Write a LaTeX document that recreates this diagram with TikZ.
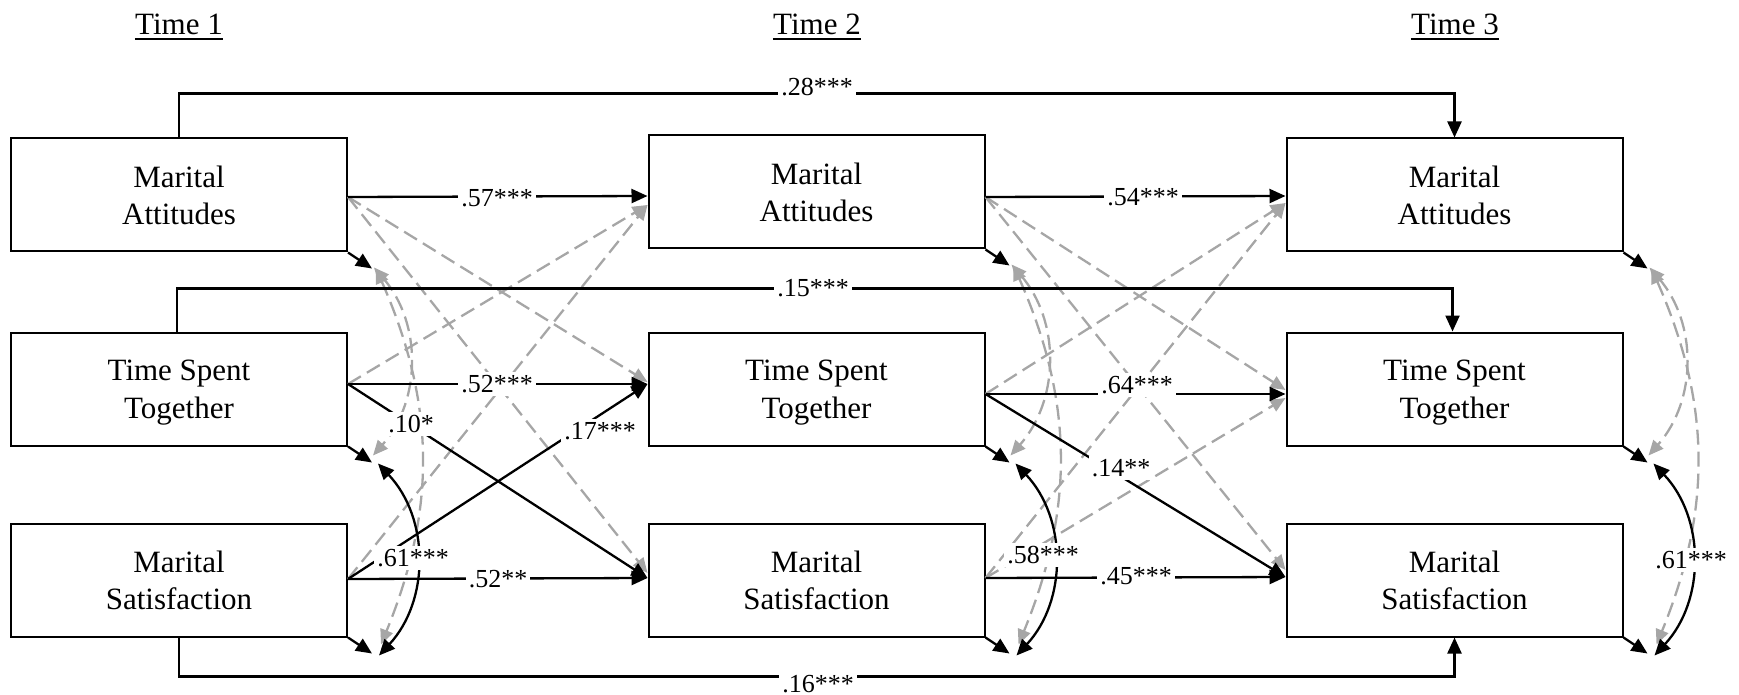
\documentclass[tikz,border=0pt]{standalone}
\usepackage{fontspec}
\setmainfont{Liberation Serif}
\usetikzlibrary{arrows.meta,calc}
\definecolor{lg}{RGB}{166,166,166}
\begin{document}
\begin{tikzpicture}[x=0.5pt,y=-0.5pt,
 box/.style={draw, line width=1pt, minimum width=168pt, minimum height=56.5pt, inner sep=0pt, align=center, text depth=0pt, font=\fontsize{15.5}{18.75}\selectfont},
 blk/.style={line width=1.15pt, -{Triangle[length=8pt,width=7pt]}},
 blk2/.style={line width=1.15pt, {Triangle[length=8pt,width=7pt]}-{Triangle[length=8pt,width=7pt]}},
 gry/.style={lg, line width=1.15pt, dash pattern=on 7.5pt off 3.5pt, -{Triangle[length=7.5pt,width=6.5pt]}},
 gry2/.style={lg, line width=1.15pt, dash pattern=on 7.5pt off 3.5pt, {Triangle[length=7.5pt,width=6.5pt]}-{Triangle[length=7.5pt,width=6.5pt]}},
 lab/.style={fill=white, inner sep=1.5pt, font=\fontsize{13}{15}\selectfont},
 ttl/.style={inner sep=0pt, anchor=base, font=\fontsize{15.5}{18.75}\selectfont}]
\useasboundingbox (0,0) rectangle (1739,695);

% titles
\node[ttl] (t1) at (179,35) {Time 1};
\node[ttl] (t2) at (817,35) {Time 2};
\node[ttl] (t3) at (1455,35) {Time 3};
\foreach \t in {t1,t2,t3}
  \draw[line width=1pt] ([yshift=-2pt]\t.base west) -- ([yshift=-2pt]\t.base east);

% boxes
\node[box] (ma1)  at (179,195)    {Marital\\Attitudes};
\node[box] (tst1) at (179,389)    {Time Spent\\Together};
\node[box] (ms1)  at (179,580)    {Marital\\Satisfaction};
\node[box] (ma2)  at (816.5,192)  {Marital\\Attitudes};
\node[box] (tst2) at (816.5,389)  {Time Spent\\Together};
\node[box] (ms2)  at (816.5,580)  {Marital\\Satisfaction};
\node[box] (ma3)  at (1454.5,195) {Marital\\Attitudes};
\node[box] (tst3) at (1454.5,389) {Time Spent\\Together};
\node[box] (ms3)  at (1454.5,580) {Marital\\Satisfaction};

% ports
\coordinate (ma1o)  at ($(ma1.east)+(0,2)$);
\coordinate (tst1o) at ($(tst1.east)+(0,-5)$);
\coordinate (ms1o)  at ($(ms1.east)+(0,-1)$);
\coordinate (ma2i)  at ($(ma2.west)+(0,4)$);
\coordinate (ma2g)  at ($(ma2.west)+(0,13)$);
\coordinate (tst2i) at ($(tst2.west)+(0,-5)$);
\coordinate (tst2g) at ($(tst2.west)+(0,-7)$);
\coordinate (ms2i)  at ($(ms2.west)+(0,-2)$);
\coordinate (ms2g)  at ($(ms2.west)+(0,-7)$);
\coordinate (ma2o)  at ($(ma2.east)+(0,5)$);
\coordinate (tst2o) at ($(tst2.east)+(0,5)$);
\coordinate (ms2o)  at ($(ms2.east)+(0,-2)$);
\coordinate (ma3i)  at ($(ma3.west)+(0,1)$);
\coordinate (ma3g)  at ($(ma3.west)+(0,8)$);
\coordinate (tst3i) at ($(tst3.west)+(0,5)$);
\coordinate (tst3ga) at ($(tst3.west)+(0,1)$);
\coordinate (tst3gb) at ($(tst3.west)+(0,9)$);
\coordinate (ms3i)  at ($(ms3.west)+(0,-3)$);
\coordinate (ms3g)  at ($(ms3.west)+(0,-10)$);

% gray dashed cross-lagged paths
\draw[gry] (ma1o) -- (tst2g);
\draw[gry] (ma1o) -- (ms2g);
\draw[gry] (tst1o) -- (ma2g);
\draw[gry] (ms1o) -- (ma2g);
\draw[gry] (ma2o) -- (tst3ga);
\draw[gry] (ma2o) -- (ms3g);
\draw[gry] (tst2o) -- (ma3g);
\draw[gry] (ms2o) -- (ma3g);
\draw[gry] (ms2o) -- (tst3gb);

% residual arrows and covariances
\foreach \c in {1,2,3}{
  \coordinate (ea\c) at ($(ma\c.south east)+(24,16)$);
  \coordinate (et\c) at ($(tst\c.south east)+(24,16)$);
  \coordinate (em\c) at ($(ms\c.south east)+(24,16)$);
  \draw[blk] (ma\c.south east) -- (ea\c);
  \draw[blk] (tst\c.south east) -- (et\c);
  \draw[blk] (ms\c.south east) -- (em\c);
  \draw[gry2] ($(ea\c)+(2,-1)$) to[bend left=41] ($(et\c)+(1,-7)$);
  \draw[gry2] ($(ea\c)+(4,0)$) to[bend left=23] ($(em\c)+(9,-9)$);
  \draw[blk2] ($(et\c)+(6,1)$) to[bend left=43] ($(em\c)+(7,2)$);
}

% black paths
\draw[blk] (ma1o) -- (ma2i);
\draw[blk] (tst1o) -- (tst2i);
\draw[blk] (ms1o) -- (ms2i);
\draw[blk] (tst1o) -- (ms2i);
\draw[blk] (ms1o) -- (tst2i);
\draw[blk] (ma2o) -- (ma3i);
\draw[blk] (tst2o) -- (tst3i);
\draw[blk] (ms2o) -- (ms3i);
\draw[blk] (tst2o) -- (ms3i);

% stability paths across two waves
\draw[blk] (ma1.north) -- ++(0,-44) -| (ma3.north);
\draw[blk] ([xshift=-1pt]tst1.north) -- ++(0,-43) -| ([xshift=-1pt]tst3.north);
\draw[blk] (ms1.south) -- ++(0,39) -| (ms3.south);

% labels
\node[lab] (l57) at (497,198) {.57***};
\node[lab] (l52a) at (497,384) {.52***};
\node[lab] (l52b) at (498,579) {.52**};
\node[lab] (l10) at (411,424) {.10*};
\node[lab] (l17) at (600,431) {.17***};
\node[lab] (l54) at (1143,197) {.54***};
\node[lab] (l64) at (1137,385) {.64***};
\node[lab] (l45) at (1136,576) {.45***};
\node[lab] (l14) at (1121,468) {.14**};
\node[lab,anchor=base] (l28) at (817,96) {.28***};
\node[lab,anchor=base] (l15) at (813,296) {.15***};
\node[lab,anchor=north] (l16) at (818,672) {.16***};
\node[lab] (l61a) at (413,558) {.61***};
\node[lab] (l58) at (1043,555) {.58***};
\node[lab] (l61b) at (1691,560) {.61***};
\end{tikzpicture}
\end{document}
